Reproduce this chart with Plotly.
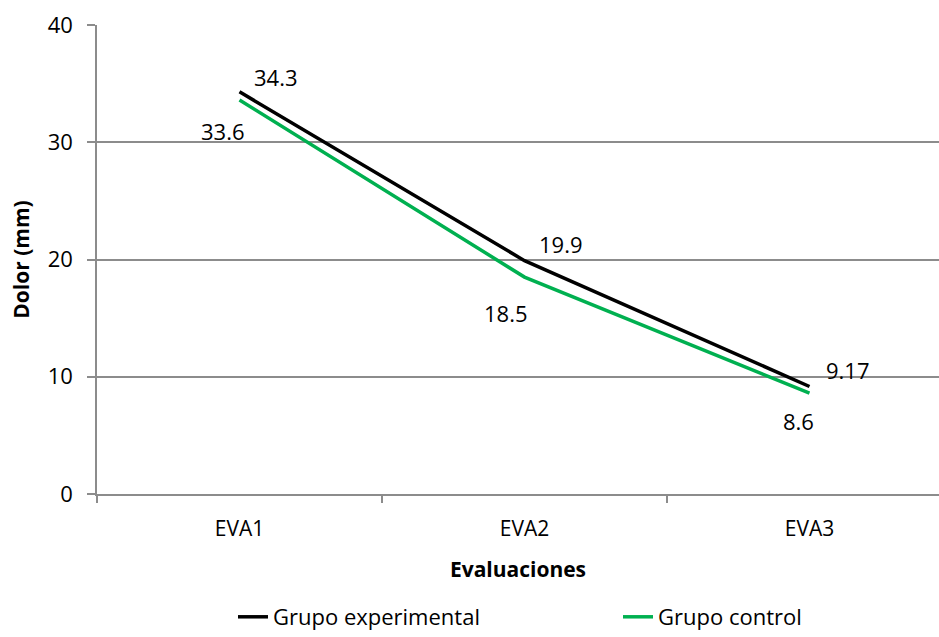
import plotly.graph_objects as go

# Evaluaciones del dolor (escala EVA, mm)
categorias = ["EVA1", "EVA2", "EVA3"]
experimental = [34.3, 19.9, 9.17]
control = [33.6, 18.5, 8.6]
etiquetas_exp = ["34.3", "19.9", "9.17"]
etiquetas_ctl = ["33.6", "18.5", "8.6"]

FONT = "Open Sans, Noto Sans, sans-serif"
GRIS = "#8c8c8c"
VERDE = "#00B050"

x = list(range(len(categorias)))

fig = go.Figure()
fig.add_trace(go.Scatter(x=x, y=experimental, mode="lines", name="Grupo experimental",
                         line=dict(color="black", width=3.5), legend="legend"))
fig.add_trace(go.Scatter(x=x, y=control, mode="lines", name="Grupo control",
                         line=dict(color=VERDE, width=3.5), legend="legend2"))

# etiquetas de datos: experimental arriba-derecha, control abajo/izquierda
desp_exp = [(36, 15), (36, 17), (38, 16)]
desp_ctl = [(-17, -31), (-19, -36), (-11, -28)]
for xi, yi, txt, (dx, dy) in zip(x, experimental, etiquetas_exp, desp_exp):
    fig.add_annotation(x=xi, y=yi, text=txt, showarrow=False, xshift=dx, yshift=dy,
                       font=dict(family=FONT, size=22, color="black"))
for xi, yi, txt, (dx, dy) in zip(x, control, etiquetas_ctl, desp_ctl):
    fig.add_annotation(x=xi, y=yi, text=txt, showarrow=False, xshift=dx, yshift=dy,
                       font=dict(family=FONT, size=22, color="black"))

leyenda = dict(orientation="h", xanchor="left", y=(494 - 617) / 469, yanchor="middle",
               font=dict(family=FONT, size=22), bgcolor="rgba(0,0,0,0)",
               borderwidth=0)

fig.update_layout(
    width=939, height=637,
    margin=dict(l=97, r=0, t=25, b=143, autoexpand=False),
    paper_bgcolor="white", plot_bgcolor="white",
    font=dict(family=FONT, size=22, color="black"),
    showlegend=True,
    legend=dict(leyenda, x=(233 - 97) / 842),
    legend2=dict(leyenda, x=(618 - 97) / 842),
    xaxis=dict(
        range=[-0.5, 2.5 - 13 / 285],
        tickvals=x, ticktext=categorias, ticks="",
        showgrid=False, zeroline=False, automargin=False,
        showline=True, linecolor=GRIS, linewidth=1.5,
        tickfont=dict(family=FONT, size=21),
        ticklabelstandoff=15,
        minor=dict(tickvals=[-0.5, 0.5, 1.5, 2.5], ticks="outside", ticklen=7,
                   tickcolor=GRIS, tickwidth=1.5, showgrid=False),
        title=dict(text="<b>Evaluaciones</b>", font=dict(family=FONT, size=21), standoff=21),
    ),
    yaxis=dict(
        range=[0, 40], tickvals=[0, 10, 20, 30, 40],
        showgrid=True, gridcolor=GRIS, gridwidth=1.5,
        zeroline=False, showline=True, linecolor=GRIS, linewidth=1.5, automargin=False,
        ticks="outside", ticklen=8, tickcolor=GRIS, tickwidth=1.5,
        tickfont=dict(family=FONT, size=22),
        ticklabelstandoff=10,
        title=dict(text="<b>Dolor (mm)</b>", font=dict(family=FONT, size=21), standoff=12),
    ),
)

fig.write_html("out.html")
